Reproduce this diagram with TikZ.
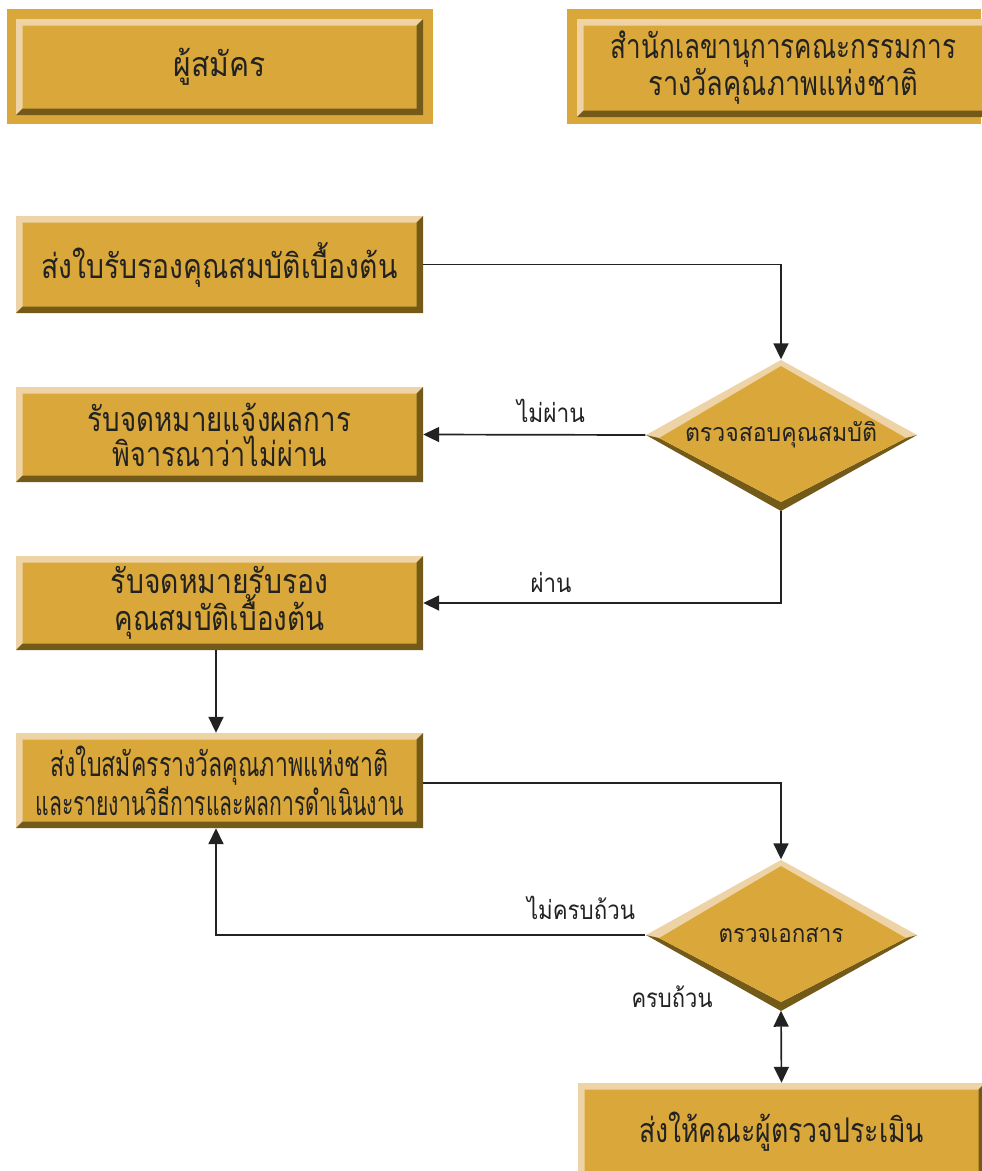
\documentclass[tikz,border=0pt]{standalone}
\usepackage{fontspec}
\usepackage{graphicx}
\newfontfamily\thai[Script=Thai]{Loma}
\usetikzlibrary{arrows.meta,shapes.geometric}
\definecolor{gold}{HTML}{DAA83A}
\definecolor{lite}{HTML}{EDD3A5}
\definecolor{dark}{HTML}{735A19}
\definecolor{ink}{HTML}{222222}
\newcommand\fw[2]{\resizebox{#1pt}{\height}{#2}}
\newcommand\gbox[6]{%
 \fill[gold] (#2,#3) rectangle (#4,#5);
 \fill[lite] (#2,#3) -- (#4,#3) -- ({#4-6.5},{#3+6.5}) -- ({#2+6.5},{#3+6.5}) -- ({#2+6.5},{#5-6.5}) -- (#2,#5) -- cycle;
 \fill[dark] (#4,#3) -- (#4,#5) -- (#2,#5) -- ({#2+6.5},{#5-6.5}) -- ({#4-6.5},{#5-6.5}) -- ({#4-6.5},{#3+6.5}) -- cycle;
 \node[boxtext, minimum width={#4-#2}, minimum height={#5-#3}] (#1) at ({(#2+#4)/2},{(#3+#5)/2}) {#6};
}
\newcommand\gdia[3]{%
 \node[shape=diamond, draw=none, minimum width=271, minimum height=151, inner sep=0] (#1) at (781,#2) {};
 \fill[lite] (646,#2) -- (781,{#2-75}) -- (917,#2) -- (906,{#2+3}) -- (781,{#2-69}) -- (659,{#2+3}) -- cycle;
 \fill[dark] (646,#2) -- (781,{#2+76}) -- (917,#2) -- (906,{#2+3}) -- (781,{#2+67}) -- (659,{#2+3}) -- cycle;
 \fill[gold] (659,{#2+3}) -- (781,{#2-69}) -- (906,{#2+3}) -- (781,{#2+67}) -- cycle;
 \node[diatext] (#1t) at (781,#2) {#3};
}
\begin{document}
\begin{tikzpicture}[x=1pt,y=-1pt,
  boxtext/.style={font=\thai\fontsize{34}{35}\selectfont, text=ink, align=center, inner sep=0},
  diatext/.style={font=\thai\fontsize{25}{26}\selectfont, text=ink, inner sep=0},
  lbl/.style={font=\thai\fontsize{26}{26}\selectfont, text=ink, inner sep=0},
  arr/.style={draw=ink, line width=1.7, -{Triangle[length=16,width=15]}},
  darr/.style={draw=ink, line width=1.7, {Triangle[length=16,width=15]}-{Triangle[length=16,width=15]}}]
\useasboundingbox (0,0) rectangle (982,1171);
\clip (0,0) rectangle (982,1171);
\fill[white] (0,0) rectangle (982,1171);
% headers
\fill[gold] (7,9) rectangle (433,124);
\gbox{h1}{16}{19}{423}{115}{\fw{92}{ผู้สมัคร}}
\fill[gold] (567,9) rectangle (981,124);
\gbox{h2}{577}{19}{990}{117}{\fw{345}{สำนักเลขานุการคณะกรรมการ}\\\fw{270}{รางวัลคุณภาพแห่งชาติ}}
% boxes
\gbox{b1}{16}{216}{423}{313}{\fw{356}{ส่งใบรับรองคุณสมบัติเบื้องต้น}}
\gbox{b2}{16}{387}{423}{482}{\fw{263}{รับจดหมายแจ้งผลการ}\\\fw{214}{พิจารณาว่าไม่ผ่าน}}
\gbox{b3}{16}{556}{423}{650}{\fw{217}{รับจดหมายรับรอง}\\\fw{210}{คุณสมบัติเบื้องต้น}}
\gbox{b4}{16}{733}{423}{828}{\fw{338}{ส่งใบสมัครรางวัลคุณภาพแห่งชาติ}\\\fw{368}{และรายงานวิธีการและผลการดำเนินงาน}}
\gbox{b5}{578}{1083}{985}{1180}{\fw{285}{ส่งให้คณะผู้ตรวจประเมิน}}
% diamonds
\gdia{d1}{435}{\fw{192}{ตรวจสอบคุณสมบัติ}}
\gdia{d2}{935}{\fw{125}{ตรวจเอกสาร}}
% connectors
\draw[arr] (b1.east) -| (d1.north);
\draw[arr] (d1.west) -- (b2.east);
\draw[arr] (d1.south) |- (b3.east);
\draw[arr] ([xshift=-3.5]b3.south) -- ([xshift=-3.5]b4.north);
\draw[arr] ([yshift=-2.5]b4.east) -| (d2.north);
\draw[arr] (d2.west) -| ([xshift=-3.5]b4.south);
\draw[darr] (d2.south) -- (b5.north);
% labels
\node[lbl] (l1) at (551,411) {\fw{68}{ไม่ผ่าน}};
\node[lbl] (l2) at (551,582) {\fw{41}{ผ่าน}};
\node[lbl] (l3) at (581,908) {\fw{108}{ไม่ครบถ้วน}};
\node[lbl] (l4) at (672,997) {\fw{81}{ครบถ้วน}};
\end{tikzpicture}
\end{document}
